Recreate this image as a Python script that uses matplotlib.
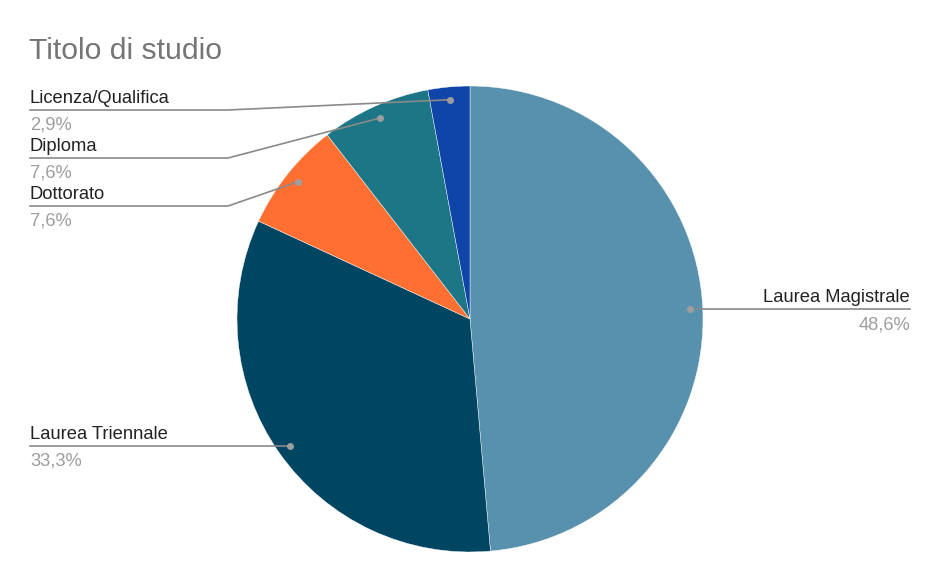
import numpy as np
import matplotlib.pyplot as plt

plt.rcParams['font.family'] = ['Liberation Sans', 'DejaVu Sans']

# Data
labels = ["Laurea Magistrale", "Laurea Triennale", "Dottorato", "Diploma", "Licenza/Qualifica"]
values = [48.6, 33.3, 7.6, 7.6, 2.9]
pct_text = ["48,6%", "33,3%", "7,6%", "7,6%", "2,9%"]
colors = ["#5891ad", "#004561", "#ff6f31", "#1c7685", "#0f45a8"]

W, H = 941, 581
fig = plt.figure(figsize=(W / 100, H / 100), dpi=100)
ax = fig.add_axes([0, 0, 1, 1])

cx, cy, R = 470, H - 319, 233
wedges, _ = ax.pie(values, colors=colors, startangle=90, counterclock=False,
                   center=(cx, cy), radius=R,
                   wedgeprops=dict(edgecolor="white", linewidth=0.3))
ax.set_xlim(0, W)
ax.set_ylim(0, H)
ax.set_aspect("equal")
ax.axis("off")

line_c = "#8a8a8a"
fs = 13.2
# label layout: (side, line y in px)
layout = {
    "Laurea Magistrale": ("right", 309),
    "Laurea Triennale": ("left", 446),
    "Dottorato": ("left", 206),
    "Diploma": ("left", 158),
    "Licenza/Qualifica": ("left", 110),
}

for w, name, pct in zip(wedges, labels, pct_text):
    ang = np.deg2rad((w.theta1 + w.theta2) / 2)
    px = cx + 0.945 * R * np.cos(ang)
    py = cy + 0.945 * R * np.sin(ang)
    side, ly = layout[name]
    ly = H - ly
    ax.plot(px, py, "o", color="#9e9e9e", ms=4, zorder=5)
    if side == "right":
        ax.plot([px, 910], [ly, ly], color=line_c, lw=1.2)
        ax.text(910, ly + 3, name, ha="right", va="bottom", fontsize=fs, color="#222222")
        ax.text(910, ly - 7, pct, ha="right", va="top", fontsize=fs, color="#9e9e9e")
    else:
        if abs(py - ly) < 3:
            ax.plot([30, px], [ly, ly], color=line_c, lw=1.2)
        else:
            ax.plot([30, 228, px], [ly, ly, py], color=line_c, lw=1.2)
        ax.text(30, ly + 3, name, ha="left", va="bottom", fontsize=fs, color="#222222")
        ax.text(30, ly - 7, pct, ha="left", va="top", fontsize=fs, color="#9e9e9e")

ax.text(29, H - 51, "Titolo di studio", ha="left", va="center", fontsize=21.7, color="#757575")

fig.savefig("out.png", dpi=100)
